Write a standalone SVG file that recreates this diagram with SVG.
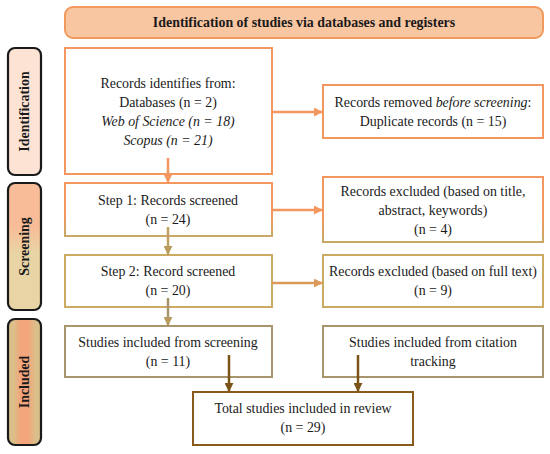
<svg xmlns="http://www.w3.org/2000/svg" width="550" height="454" viewBox="0 0 550 454">
<defs>
<style>
text{font-family:"Liberation Serif","Times New Roman",serif;font-size:13.9px;fill:#1a1a1a;text-anchor:middle}
.b{font-weight:bold}
.i{font-style:italic}
.box{fill:#fff;stroke-width:2}
.side{stroke:#1a1a1a;stroke-width:2.2}
.c{fill:none;stroke-width:2.5}
</style>
<linearGradient id="gS" x1="0" y1="0" x2="0" y2="1"><stop offset="0.35" stop-color="#F8BD98"/><stop offset="0.55" stop-color="#E8D4A4"/></linearGradient>
<linearGradient id="gI" x1="0" y1="0" x2="1" y2="0"><stop offset="0.15" stop-color="#D9C08A"/><stop offset="0.4" stop-color="#F4A57C"/><stop offset="0.6" stop-color="#F4A57C"/><stop offset="0.85" stop-color="#D9C08A"/></linearGradient>
<linearGradient id="gB1" x1="0" y1="0" x2="0" y2="1"><stop offset="0.6" stop-color="#F4975F"/><stop offset="1" stop-color="#C9A865"/></linearGradient>
<marker id="aO" viewBox="0 0 10 10" refX="9" refY="5" markerWidth="3.6" markerHeight="3.6" orient="auto"><path d="M0,0L10,5L0,10z" fill="#F4975F"/></marker>
<marker id="aT" viewBox="0 0 10 10" refX="9" refY="5" markerWidth="3.6" markerHeight="3.6" orient="auto"><path d="M0,0L10,5L0,10z" fill="#B99A5E"/></marker>
<marker id="aF" viewBox="0 0 10 10" refX="9" refY="5" markerWidth="3.6" markerHeight="3.6" orient="auto"><path d="M0,0L10,5L0,10z" fill="#DB9A5A"/></marker>
<marker id="aD" viewBox="0 0 10 10" refX="9" refY="5" markerWidth="3.6" markerHeight="3.6" orient="auto"><path d="M0,0L10,5L0,10z" fill="#7A5416"/></marker>
</defs>
<rect width="550" height="454" fill="#fff"/>

<g id="header">
<rect x="65" y="7" width="478" height="31" rx="8" fill="#F9C6A2" stroke="#F29A5E" stroke-width="2"/>
<text class="b" x="304" y="27">Identification of studies via databases and registers</text>
</g>

<g id="phase-identification">
<rect class="side" x="8" y="48" width="33" height="127" rx="7" fill="#FCE3D4"/>
<text class="b" transform="translate(29,111.5) rotate(-90)" font-size="12.5">Identification</text>
</g>
<g id="phase-screening">
<rect class="side" x="8" y="183" width="33" height="127" rx="7" fill="url(#gS)"/>
<text class="b" transform="translate(29,246.5) rotate(-90)" font-size="12.5">Screening</text>
</g>
<g id="phase-included">
<rect class="side" x="8" y="319" width="33" height="126" rx="7" fill="url(#gI)"/>
<text class="b" transform="translate(29,382) rotate(-90)" font-size="12.5">Included</text>
</g>

<g id="records-identified">
<rect class="box" x="65" y="48" width="207" height="126" stroke="#F4975F"/>
<text x="168" y="88">Records identifies from:</text>
<text x="168" y="107">Databases (n = 2)</text>
<text class="i" x="168" y="126">Web of Science (n = 18)</text>
<text class="i" x="168" y="145">Scopus (n = 21)</text>
</g>

<g id="records-removed">
<rect class="box" x="323" y="85" width="220" height="53" stroke="#F4975F"/>
<text x="433" y="107">Records removed <tspan class="i">before screening</tspan>:</text>
<text x="433" y="126">Duplicate records (n = 15)</text>
</g>

<g id="step1">
<rect class="box" x="65" y="183" width="207" height="53" stroke="url(#gB1)"/>
<text x="168" y="205">Step 1: Records screened</text>
<text x="168" y="224">(n = 24)</text>
</g>

<g id="excluded-title">
<rect class="box" x="323" y="177" width="220" height="65" stroke="url(#gB1)"/>
<text x="433" y="196">Records excluded (based on title,</text>
<text x="433" y="215">abstract, keywords)</text>
<text x="433" y="234">(n = 4)</text>
</g>

<g id="step2">
<rect class="box" x="65" y="255" width="207" height="52" stroke="#CBAA62"/>
<text x="168" y="276">Step 2: Record screened</text>
<text x="168" y="295">(n = 20)</text>
</g>

<g id="excluded-fulltext">
<rect class="box" x="323" y="255" width="220" height="52" stroke="#CBAA62"/>
<text x="433" y="276">Records excluded (based on full text)</text>
<text x="433" y="295">(n = 9)</text>
</g>

<g id="included-screening">
<rect class="box" x="65" y="326" width="207" height="51" stroke="#A8956C"/>
<text x="168" y="347">Studies included from screening</text>
<text x="168" y="366">(n = 11)</text>
</g>

<g id="included-citation">
<rect class="box" x="323" y="326" width="220" height="51" stroke="#A8956C"/>
<text x="433" y="347">Studies included from citation</text>
<text x="433" y="366">tracking</text>
</g>

<g id="total">
<rect class="box" x="193" y="392" width="220" height="53" stroke="#8A5A1C"/>
<text x="303" y="413">Total studies included in review</text>
<text x="303" y="432">(n = 29)</text>
</g>

<g id="connectors">
<path class="c" d="M168,158V182" stroke="#F4975F" marker-end="url(#aO)"/>
<path class="c" d="M272,112H322" stroke="#F4975F" marker-end="url(#aO)"/>
<path class="c" d="M168,227V254" stroke="#BFA062" marker-end="url(#aT)"/>
<path class="c" d="M272,210H322" stroke="#F4975F" marker-end="url(#aO)"/>
<path class="c" d="M272,283H322" stroke="#DB9A5A" marker-end="url(#aF)"/>
<path class="c" d="M168,298V325" stroke="#A8956C" marker-end="url(#aT)"/>
<path class="c" d="M229,355V391" stroke="#7A5416" marker-end="url(#aD)"/>
<path class="c" d="M358,355V391" stroke="#7A5416" marker-end="url(#aD)"/>
</g>
</svg>
